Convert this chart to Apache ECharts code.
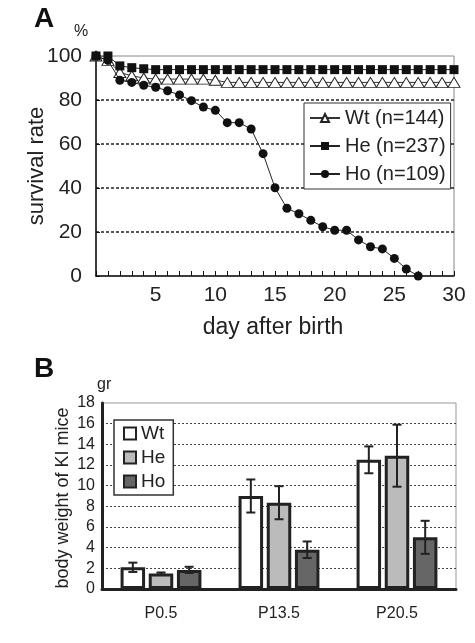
<!DOCTYPE html>
<html>
<head>
<meta charset="utf-8">
<script src="https://cdn.jsdelivr.net/npm/echarts@6/dist/echarts.min.js"></script>
<style>html,body{margin:0;padding:0;background:#fff;}#c{width:475px;height:643px;}</style>
</head>
<body>
<div id="c"></div>
<script>
// Panel A: survival rate (%) by day after birth (index = day)
const wtSurvival = [100, 98, 92.5, 91, 90, 89.5, 89.5, 89.5, 89.5, 89.5, 89, 88, 88, 88, 88, 88, 88, 88, 88, 88, 88, 88, 88, 88, 88, 88, 88, 88, 88, 88, 88];
const heSurvival = [100, 100, 95.5, 94.7, 94.2, 93.8, 93.8, 93.8, 93.8, 93.8, 93.8, 93.8, 93.8, 93.8, 93.8, 93.8, 93.8, 93.8, 93.8, 93.8, 93.8, 93.8, 93.8, 93.8, 93.8, 93.8, 93.8, 93.8, 93.8, 93.8, 93.8];
const hoSurvival = [100, 98, 89, 88, 86.7, 85.8, 84.2, 82.3, 79.7, 76.8, 75.3, 69.7, 69.7, 66.8, 55.6, 40.1, 30.8, 28.3, 25.3, 22.4, 20.8, 20.8, 16.4, 13.3, 12.3, 8.0, 3.2, 0];
const survivalNames = ['Wt (n=144)', 'He (n=237)', 'Ho (n=109)'];

// Panel B: body weight (gr)
const categories = ['P0.5', 'P13.5', 'P20.5'];
const weightNames = ['Wt', 'He', 'Ho'];
const wtWeight = [2.1, 9.0, 12.5];
const heWeight = [1.5, 8.35, 12.9];
const hoWeight = [1.85, 3.8, 5.0];
const wtErr = [0.45, 1.6, 1.3];
const heErr = [0.1, 1.6, 3.0];
const hoErr = [0.3, 0.8, 1.6];

const FONT = '"Liberation Sans", Arial, sans-serif';
const TXT = '#222';
const BAR_W = 24.5, BAR_GAP = 0.15;
const BAR_STEP = BAR_W * (1 + BAR_GAP);

function pairs(arr) { return arr.map((v, i) => [i, v]); }
function errData(vals, errs) { return vals.map((v, i) => [i, v - errs[i], v + errs[i]]); }

function errSeries(vals, errs, k) {
  return {
    type: 'custom', xAxisIndex: 1, yAxisIndex: 1, z: 10, silent: true,
    data: errData(vals, errs),
    renderItem: function (params, api) {
      const lo = api.coord([api.value(0), api.value(1)]);
      const hi = api.coord([api.value(0), api.value(2)]);
      const x = lo[0] + (k - 1) * BAR_STEP;
      const cap = 4.5;
      const st = { stroke: '#222', lineWidth: 2 };
      return {
        type: 'group',
        children: [
          { type: 'line', shape: { x1: x, y1: lo[1], x2: x, y2: hi[1] }, style: st },
          { type: 'line', shape: { x1: x - cap, y1: lo[1], x2: x + cap, y2: lo[1] }, style: st },
          { type: 'line', shape: { x1: x - cap, y1: hi[1], x2: x + cap, y2: hi[1] }, style: st }
        ]
      };
    }
  };
}

const chart = echarts.init(document.getElementById('c'), null, { renderer: 'canvas' });
chart.setOption({
  animation: false,
  backgroundColor: '#fff',
  textStyle: { fontFamily: FONT, color: TXT },
  graphic: [
    { type: 'text', left: 34, top: 5, style: { text: 'A', font: 'bold 28px ' + FONT, fill: '#111' } },
    { type: 'text', left: 74, top: 24, style: { text: '%', font: '16px ' + FONT, fill: TXT } },
    { type: 'text', x: 37, y: 166, rotation: Math.PI / 2, style: { text: 'survival rate', font: '22px ' + FONT, fill: TXT, align: 'center', verticalAlign: 'middle' } },
    { type: 'text', x: 273, y: 328, style: { text: 'day after birth', font: '23px ' + FONT, fill: TXT, align: 'center', verticalAlign: 'middle' } },
    { type: 'text', left: 34, top: 355, style: { text: 'B', font: 'bold 28px ' + FONT, fill: '#111' } },
    { type: 'text', left: 97, top: 377, style: { text: 'gr', font: '16px ' + FONT, fill: TXT } },
    { type: 'text', x: 63, y: 498, rotation: Math.PI / 2, style: { text: 'body weight of KI mice', font: '18px ' + FONT, fill: TXT, align: 'center', verticalAlign: 'middle' } }
  ],
  grid: [
    { left: 96, top: 56, width: 358, height: 220, show: true, borderColor: '#888', borderWidth: 1, backgroundColor: 'transparent' },
    { left: 102, top: 403, width: 354, height: 186, show: true, borderColor: '#999', borderWidth: 1, backgroundColor: 'transparent' }
  ],
  legend: [
    {
      data: survivalNames, orient: 'vertical', left: 304, top: 103,
      padding: [5, 5], itemGap: 8, itemWidth: 30, itemHeight: 10,
      borderColor: '#333', borderWidth: 1, backgroundColor: '#fff',
      textStyle: { fontFamily: FONT, fontSize: 20, color: TXT, lineHeight: 20, padding: [0, 0, 0, 0] },
      itemTextGap: 4
    },
    {
      data: weightNames, orient: 'vertical', left: 114, top: 420,
      padding: [4, 8, 4, 9], itemGap: 5, itemWidth: 12, itemHeight: 12, icon: 'rect',
      borderColor: '#333', borderWidth: 1.5, backgroundColor: '#fff',
      textStyle: { fontFamily: FONT, fontSize: 19, color: TXT, lineHeight: 19 },
      itemTextGap: 4
    }
  ],
  xAxis: [
    {
      gridIndex: 0, type: 'value', min: 0, max: 30, interval: 1,
      axisLine: { show: true, lineStyle: { color: '#111', width: 1.5 } },
      axisTick: { show: true, inside: true, length: 5, lineStyle: { color: '#111', width: 1 } },
      axisLabel: { fontSize: 21, color: TXT, margin: 9, fontFamily: FONT, showMinLabel: true, showMaxLabel: true,
        formatter: v => (v > 0 && v % 5 === 0) ? String(v) : '' },
      splitLine: { show: false }
    },
    {
      gridIndex: 1, type: 'category', data: categories,
      axisLine: { show: true, lineStyle: { color: '#222', width: 3 } },
      axisTick: { show: false },
      axisLabel: { fontSize: 16, color: TXT, margin: 17, fontFamily: FONT },
      splitLine: { show: false }
    }
  ],
  yAxis: [
    {
      gridIndex: 0, type: 'value', min: 0, max: 100, interval: 20,
      axisLine: { show: true, lineStyle: { color: '#111', width: 1.5 } },
      axisTick: { show: true, inside: true, length: 4, lineStyle: { color: '#111' } },
      axisLabel: { fontSize: 21, color: TXT, margin: 14, fontFamily: FONT },
      splitLine: { show: true, showMinLine: false, showMaxLine: false, lineStyle: { color: '#222', type: [3, 2], width: 1.5 } }
    },
    {
      gridIndex: 1, type: 'value', min: 0, max: 18, interval: 2,
      axisLine: { show: true, lineStyle: { color: '#222', width: 3 } },
      axisTick: { show: false },
      axisLabel: { fontSize: 16, color: TXT, margin: 7, fontFamily: FONT },
      splitLine: { show: true, showMinLine: false, showMaxLine: false, lineStyle: { color: '#444', type: [2, 2], width: 1 } }
    }
  ],
  series: [
    {
      name: survivalNames[0], type: 'line', xAxisIndex: 0, yAxisIndex: 0, data: pairs(wtSurvival),
      symbol: 'triangle', symbolSize: [12, 10], showAllSymbol: true,
      lineStyle: { color: '#333', width: 1 },
      itemStyle: { color: '#fff', borderColor: '#222', borderWidth: 1 }, z: 3
    },
    {
      name: survivalNames[1], type: 'line', xAxisIndex: 0, yAxisIndex: 0, data: pairs(heSurvival),
      symbol: 'rect', symbolSize: 9, showAllSymbol: true,
      lineStyle: { color: '#222', width: 1 },
      itemStyle: { color: '#111', borderColor: '#111', borderWidth: 0 }, z: 4
    },
    {
      name: survivalNames[2], type: 'line', xAxisIndex: 0, yAxisIndex: 0, data: pairs(hoSurvival),
      symbol: 'circle', symbolSize: 9, showAllSymbol: true,
      lineStyle: { color: '#222', width: 1 },
      itemStyle: { color: '#111', borderColor: '#111', borderWidth: 0 }, z: 5
    },
    {
      name: weightNames[0], type: 'bar', xAxisIndex: 1, yAxisIndex: 1, data: wtWeight,
      barWidth: BAR_W, barGap: (BAR_GAP * 100) + '%',
      itemStyle: { color: '#fff', borderColor: '#222', borderWidth: 3 }
    },
    {
      name: weightNames[1], type: 'bar', xAxisIndex: 1, yAxisIndex: 1, data: heWeight,
      barWidth: BAR_W, barGap: (BAR_GAP * 100) + '%',
      itemStyle: { color: '#bbbbbb', borderColor: '#222', borderWidth: 3 }
    },
    {
      name: weightNames[2], type: 'bar', xAxisIndex: 1, yAxisIndex: 1, data: hoWeight,
      barWidth: BAR_W, barGap: (BAR_GAP * 100) + '%',
      itemStyle: { color: '#666666', borderColor: '#222', borderWidth: 3 }
    },
    errSeries(wtWeight, wtErr, 0),
    errSeries(heWeight, heErr, 1),
    errSeries(hoWeight, hoErr, 2)
  ]
});
</script>
</body>
</html>
